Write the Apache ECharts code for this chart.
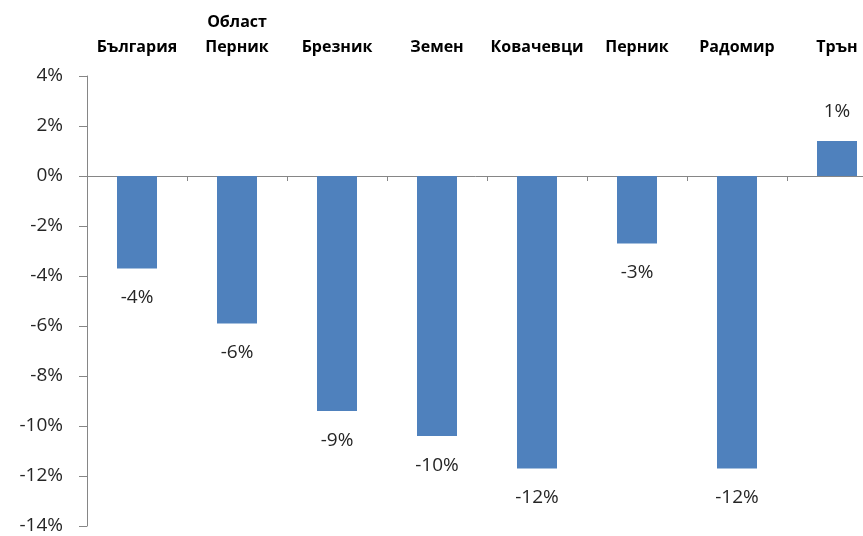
<!DOCTYPE html>
<html>
<head>
<meta charset="utf-8">
<script src="https://cdn.jsdelivr.net/npm/echarts@6/dist/echarts.min.js"></script>
<style>
  html, body { margin: 0; padding: 0; background: #fff; overflow: hidden; }
  #chart { width: 863px; height: 536px; }
</style>
</head>
<body>
<div id="chart"></div>
<script>
// категории и стойности (изменение, %)
var categories = ["България", "Област\nПерник", "Брезник", "Земен", "Ковачевци", "Перник", "Радомир", "Трън"];
var values = [-3.7, -5.9, -9.4, -10.4, -11.7, -2.7, -11.7, 1.4];
var yTicks = { min: -14, max: 4, interval: 2 };

var chart = echarts.init(document.getElementById("chart"));

// положителните стойности – етикет над стълба
var barData = values.map(function (v) {
    return {
        value: v,
        label: { position: v >= 0 ? "top" : "bottom" }
    };
});

var option = {
    animation: false,
    textStyle: { fontFamily: "Open Sans" },
    // графиката е отрязана отдясно, затова ширината излиза извън платното
    grid: {
        left: 87,
        width: 800,
        top: 76,
        bottom: 10,
        containLabel: false,
        outerBoundsMode: "none"
    },
    xAxis: [
        {
            type: "category",
            data: categories,
            position: "bottom",
            axisLine: { onZero: true, lineStyle: { color: "#868686", width: 1 } },
            axisTick: { show: true, length: 5, lineStyle: { color: "#868686" } },
            axisLabel: { show: false }
        },
        {
            type: "category",
            data: categories,
            position: "top",
            axisLine: { show: false },
            axisTick: { show: false },
            axisLabel: {
                show: true,
                interval: 0,
                margin: 16,
                color: "#000",
                fontSize: 16,
                fontWeight: "bold",
                lineHeight: 25,
                fontFamily: "Open Sans"
            }
        }
    ],
    yAxis: {
        type: "value",
        min: yTicks.min,
        max: yTicks.max,
        interval: yTicks.interval,
        axisLine: { show: true, lineStyle: { color: "#868686" } },
        axisTick: { show: true, length: 8, lineStyle: { color: "#868686" } },
        splitLine: { show: false },
        axisLabel: {
            color: "#262626",
            fontSize: 19,
            margin: 24,
            formatter: "{value}%"
        }
    },
    series: [
        {
            type: "bar",
            data: barData,
            xAxisIndex: 0,
            barWidth: 40,
            itemStyle: { color: "#4F81BD" },
            label: {
                show: true,
                color: "#262626",
                fontSize: 19,
                distance: 20,
                formatter: function (p) {
                    return Math.round(p.value) + "%";
                }
            }
        }
    ]
};

chart.setOption(option);
</script>
</body>
</html>
